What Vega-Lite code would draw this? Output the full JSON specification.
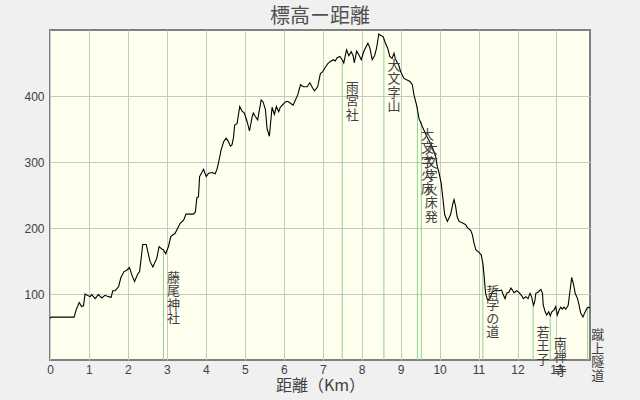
{
  "$schema": "https://vega.github.io/schema/vega-lite/v6.json",
  "width": 540,
  "height": 330,
  "autosize": {"type": "none"},
  "padding": {"left": 50, "top": 30, "right": 50, "bottom": 40},
  "background": "#f0f0f0",
  "title": {"text": "標高ー距離", "fontSize": 20, "font": "Noto Sans CJK JP", "fontWeight": "normal", "color": "#505050", "offset": 3},
  "config": {
    "view": {"fill": "#ffffee", "stroke": "#808080", "strokeWidth": 2},
    "axis": {"gridColor": "#c8c8c8", "gridWidth": 1, "ticks": false, "domain": false, "labelFont": "Liberation Sans", "labelFontSize": 12, "labelColor": "#404040", "titleFont": "Noto Sans CJK JP", "titleFontSize": 16, "titleFontWeight": "normal", "titleColor": "#404040"}
  },
  "datasets": {
    "profile": [
      {"km":0,"elev":63},{"km":0.03,"elev":65},{"km":0.62,"elev":65},{"km":0.67,"elev":76},{"km":0.75,"elev":87},{"km":0.81,"elev":81},{"km":0.86,"elev":82},{"km":0.9,"elev":100},{"km":0.93,"elev":99},{"km":1.03,"elev":96},{"km":1.07,"elev":99},{"km":1.16,"elev":93},{"km":1.24,"elev":99},{"km":1.33,"elev":94},{"km":1.41,"elev":98},{"km":1.5,"elev":96},{"km":1.57,"elev":95},{"km":1.61,"elev":105},{"km":1.67,"elev":105},{"km":1.76,"elev":111},{"km":1.82,"elev":125},{"km":1.9,"elev":134},{"km":1.97,"elev":136},{"km":2.04,"elev":140},{"km":2.1,"elev":129},{"km":2.17,"elev":119},{"km":2.25,"elev":130},{"km":2.3,"elev":134},{"km":2.34,"elev":154},{"km":2.38,"elev":175},{"km":2.47,"elev":175},{"km":2.53,"elev":159},{"km":2.57,"elev":149},{"km":2.64,"elev":141},{"km":2.7,"elev":149},{"km":2.74,"elev":154},{"km":2.8,"elev":172},{"km":2.87,"elev":168},{"km":2.91,"elev":167},{"km":2.97,"elev":161},{"km":3.04,"elev":172},{"km":3.1,"elev":187},{"km":3.21,"elev":192},{"km":3.28,"elev":200},{"km":3.34,"elev":207},{"km":3.43,"elev":212},{"km":3.49,"elev":221},{"km":3.68,"elev":221},{"km":3.73,"elev":224},{"km":3.77,"elev":246},{"km":3.81,"elev":247},{"km":3.84,"elev":278},{"km":3.86,"elev":280},{"km":3.94,"elev":289},{"km":4.01,"elev":278},{"km":4.07,"elev":283},{"km":4.16,"elev":284},{"km":4.24,"elev":282},{"km":4.29,"elev":290},{"km":4.33,"elev":300},{"km":4.39,"elev":318},{"km":4.46,"elev":331},{"km":4.52,"elev":336},{"km":4.57,"elev":332},{"km":4.63,"elev":324},{"km":4.67,"elev":326},{"km":4.71,"elev":337},{"km":4.74,"elev":356},{"km":4.8,"elev":358},{"km":4.87,"elev":384},{"km":4.93,"elev":377},{"km":4.99,"elev":374},{"km":5.06,"elev":361},{"km":5.12,"elev":347},{"km":5.19,"elev":369},{"km":5.22,"elev":374},{"km":5.27,"elev":369},{"km":5.33,"elev":364},{"km":5.42,"elev":394},{"km":5.47,"elev":391},{"km":5.53,"elev":379},{"km":5.57,"elev":351},{"km":5.63,"elev":339},{"km":5.67,"elev":364},{"km":5.7,"elev":383},{"km":5.76,"elev":372},{"km":5.81,"elev":384},{"km":5.87,"elev":376},{"km":5.91,"elev":383},{"km":5.96,"elev":386},{"km":6.04,"elev":391},{"km":6.1,"elev":392},{"km":6.17,"elev":389},{"km":6.24,"elev":386},{"km":6.3,"elev":394},{"km":6.36,"elev":402},{"km":6.43,"elev":417},{"km":6.5,"elev":414},{"km":6.6,"elev":414},{"km":6.67,"elev":420},{"km":6.74,"elev":412},{"km":6.79,"elev":408},{"km":6.87,"elev":414},{"km":6.94,"elev":434},{"km":7.0,"elev":437},{"km":7.07,"elev":444},{"km":7.13,"elev":449},{"km":7.19,"elev":452},{"km":7.27,"elev":455},{"km":7.32,"elev":453},{"km":7.37,"elev":458},{"km":7.44,"elev":460},{"km":7.5,"elev":455},{"km":7.54,"elev":450},{"km":7.61,"elev":470},{"km":7.67,"elev":461},{"km":7.73,"elev":467},{"km":7.78,"elev":461},{"km":7.81,"elev":450},{"km":7.87,"elev":468},{"km":7.93,"elev":462},{"km":7.99,"elev":455},{"km":8.05,"elev":467},{"km":8.1,"elev":473},{"km":8.16,"elev":480},{"km":8.21,"elev":473},{"km":8.27,"elev":455},{"km":8.33,"elev":461},{"km":8.38,"elev":472},{"km":8.44,"elev":494},{"km":8.48,"elev":492},{"km":8.55,"elev":490},{"km":8.61,"elev":480},{"km":8.67,"elev":472},{"km":8.72,"elev":460},{"km":8.78,"elev":457},{"km":8.83,"elev":465},{"km":8.86,"elev":457},{"km":8.9,"elev":452},{"km":8.95,"elev":447},{"km":9.0,"elev":437},{"km":9.08,"elev":427},{"km":9.14,"elev":425},{"km":9.24,"elev":422},{"km":9.3,"elev":417},{"km":9.34,"elev":402},{"km":9.41,"elev":386},{"km":9.47,"elev":366},{"km":9.56,"elev":353},{"km":9.68,"elev":338},{"km":9.81,"elev":323},{"km":9.9,"elev":308},{"km":9.94,"elev":293},{"km":9.98,"elev":285},{"km":10.04,"elev":268},{"km":10.09,"elev":242},{"km":10.13,"elev":220},{"km":10.2,"elev":210},{"km":10.28,"elev":220},{"km":10.34,"elev":237},{"km":10.37,"elev":243},{"km":10.41,"elev":233},{"km":10.45,"elev":217},{"km":10.5,"elev":210},{"km":10.58,"elev":208},{"km":10.67,"elev":205},{"km":10.71,"elev":201},{"km":10.8,"elev":196},{"km":10.84,"elev":190},{"km":10.88,"elev":178},{"km":10.93,"elev":167},{"km":11.01,"elev":163},{"km":11.07,"elev":159},{"km":11.11,"elev":146},{"km":11.14,"elev":129},{"km":11.18,"elev":101},{"km":11.23,"elev":91},{"km":11.29,"elev":93},{"km":11.35,"elev":103},{"km":11.44,"elev":106},{"km":11.52,"elev":105},{"km":11.59,"elev":106},{"km":11.64,"elev":98},{"km":11.68,"elev":93},{"km":11.72,"elev":101},{"km":11.78,"elev":103},{"km":11.83,"elev":109},{"km":11.87,"elev":106},{"km":11.91,"elev":102},{"km":11.98,"elev":105},{"km":12.04,"elev":102},{"km":12.1,"elev":98},{"km":12.15,"elev":93},{"km":12.21,"elev":96},{"km":12.27,"elev":93},{"km":12.32,"elev":101},{"km":12.36,"elev":96},{"km":12.41,"elev":83},{"km":12.44,"elev":88},{"km":12.47,"elev":101},{"km":12.53,"elev":103},{"km":12.6,"elev":107},{"km":12.64,"elev":101},{"km":12.66,"elev":83},{"km":12.71,"elev":73},{"km":12.75,"elev":68},{"km":12.8,"elev":73},{"km":12.84,"elev":67},{"km":12.88,"elev":73},{"km":12.94,"elev":76},{"km":12.98,"elev":81},{"km":13.02,"elev":68},{"km":13.07,"elev":76},{"km":13.11,"elev":80},{"km":13.15,"elev":77},{"km":13.19,"elev":80},{"km":13.24,"elev":77},{"km":13.3,"elev":83},{"km":13.35,"elev":106},{"km":13.39,"elev":125},{"km":13.44,"elev":114},{"km":13.48,"elev":101},{"km":13.54,"elev":93},{"km":13.58,"elev":83},{"km":13.62,"elev":71},{"km":13.68,"elev":65},{"km":13.72,"elev":71},{"km":13.78,"elev":78},{"km":13.81,"elev":80},{"km":13.86,"elev":79}
    ],
    "places": [
      {"name":"藤尾神社","label":"藤\n尾\n神\n社","km":2.91,"elev":167},
      {"name":"雨宮社","label":"雨\n宮\n社","km":7.5,"elev":455},
      {"name":"大文字山","label":"大\n文\n字\n山","km":8.57,"elev":488},
      {"name":"大文字火床","label":"大\n文\n字\n火\n床","km":9.43,"elev":384},
      {"name":"大文字火床発","label":"大\n文\n字\n火\n床\n発","km":9.53,"elev":362},
      {"name":"哲学の道","label":"哲\n学\nの\n道","km":11.11,"elev":146},
      {"name":"若王子","label":"若\n王\n子","km":12.4,"elev":84},
      {"name":"南禅寺","label":"南\n禅\n寺","km":12.84,"elev":67},
      {"name":"蹴上隧道","label":"蹴\n上\n隧\n道","km":13.8,"elev":80}
    ]
  },
  "layer": [
    {
      "data": {"name": "places"},
      "mark": {"type": "rule", "color": "#8fd08f", "strokeWidth": 1},
      "encoding": {
        "x": {"field": "km", "type": "quantitative", "scale": {"domain": [0, 13.86], "nice": false, "zero": false},
          "axis": {"title": "距離（Km）", "values": [0,1,2,3,4,5,6,7,8,9,10,11,12,13], "grid": true, "labelPadding": 4, "titlePadding": 2, "labelFlush": false}},
        "y": {"field": "elev", "type": "quantitative", "scale": {"domain": [0, 500], "nice": false},
          "axis": {"title": null, "values": [100, 200, 300, 400], "grid": true, "labelPadding": 6}},
        "y2": {"datum": 0}
      }
    },
    {
      "data": {"name": "profile"},
      "mark": {"type": "line", "color": "#000000", "strokeWidth": 1.1},
      "encoding": {
        "x": {"field": "km", "type": "quantitative"},
        "y": {"field": "elev", "type": "quantitative"}
      }
    },
    {
      "data": {"name": "places"},
      "mark": {"type": "text", "lineBreak": "\n", "baseline": "top", "align": "center", "dx": 10, "dy": 22, "font": "Noto Sans CJK JP", "fontSize": 13, "lineHeight": 13.5, "color": "#404040"},
      "encoding": {
        "x": {"field": "km", "type": "quantitative"},
        "y": {"field": "elev", "type": "quantitative"},
        "text": {"field": "label"}
      }
    }
  ]
}
